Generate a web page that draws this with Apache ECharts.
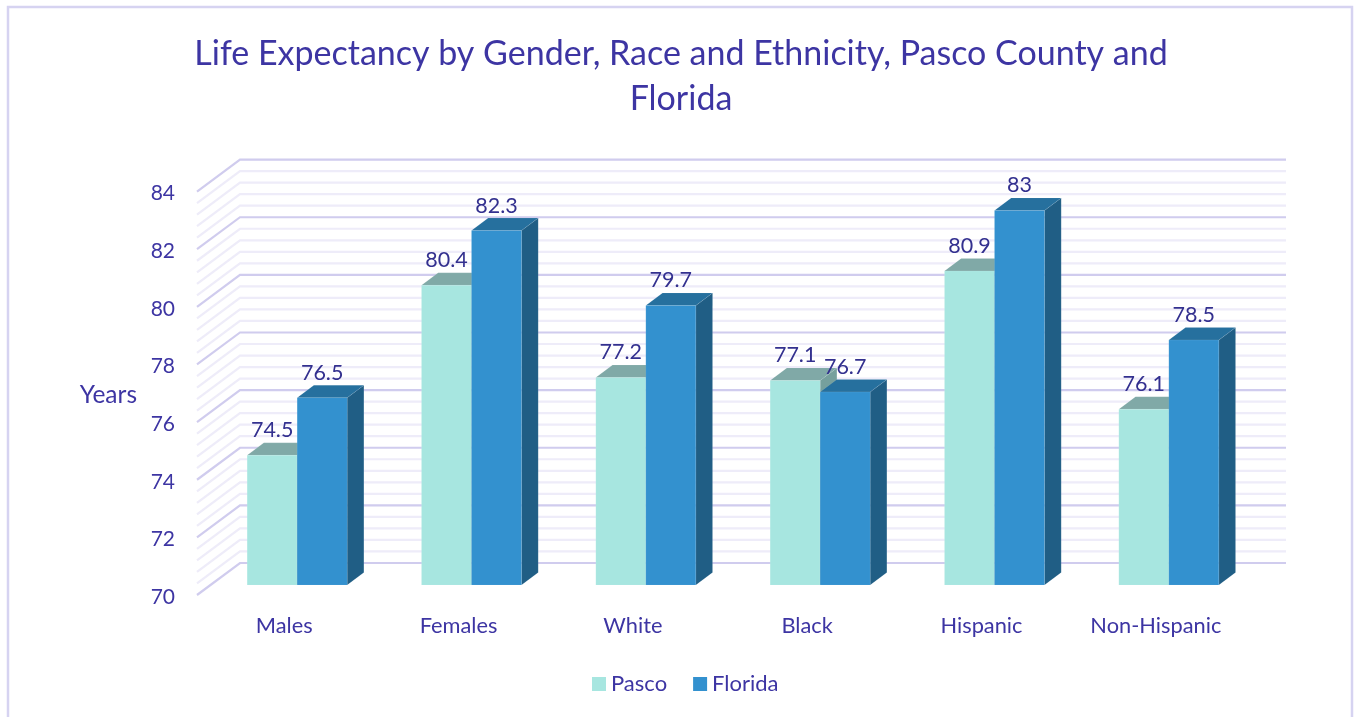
<!DOCTYPE html>
<html>
<head>
<meta charset="utf-8">
<style>html,body{margin:0;padding:0;background:#fff;overflow:hidden}#c{width:1354px;height:717px}</style>
<script src="https://cdn.jsdelivr.net/npm/echarts@6/dist/echarts.min.js"></script>
</head>
<body>
<div id="c"></div>
<script>
const categories = ['Males','Females','White','Black','Hispanic','Non-Hispanic'];
const pasco = [74.5,80.4,77.2,77.1,80.9,76.1];
const florida = [76.5,82.3,79.7,76.7,83,78.5];
const gridValues = [70,70.4,70.8,71.2,71.6,72,72.4,72.8,73.2,73.6,74,74.4,74.8,75.2,75.6,76,76.4,76.8,77.2,77.6,78,78.4,78.8,79.2,79.6,80,80.4,80.8,81.2,81.6,82,82.4,82.8,83.2,83.6,84];
const majorEvery = 5;

const FONT = 'Lato, "Open Sans", sans-serif';
const TEXT = '#3d35a3';
const LABEL = '#33308f';
const WALL = [43, -32];      // back wall offset from the front axis plane
const PLANE = [13, -10];     // bar front face offset from the front axis plane
const DEPTH = [16.7, -12.5]; // bar depth
const BAR_RATIO = 0.2868;    // bar width as a share of a category band

function gridItem(params, api) {
  const v = api.value(0);
  const sys = params.coordSys;
  const y = api.coord([0, v])[1];
  const major = params.dataIndex % majorEvery === 0;
  return {
    type: 'polyline',
    shape: { points: [[sys.x, y], [sys.x + WALL[0], y + WALL[1]], [sys.x + sys.width + WALL[0], y + WALL[1]]] },
    style: { fill: null, stroke: major ? '#d0ccee' : '#eeecf9', lineWidth: 2.2 },
    silent: true
  };
}

function barItem(side, front, top, wall) {
  return function (params, api) {
    const cat = api.value(0), val = api.value(1);
    const p = api.coord([cat, val]);
    const base = api.coord([cat, 70]);
    const w = api.size([1, 0])[0] * BAR_RATIO;
    const x0 = p[0] + PLANE[0] + (side < 0 ? -w : 0);
    const x1 = x0 + w;
    const yt = p[1] + PLANE[1];
    const yb = base[1] + PLANE[1];
    const dx = DEPTH[0], dy = DEPTH[1];
    const edge = 'rgba(255,255,255,0.15)';
    return {
      type: 'group',
      children: [
        { type: 'polygon', shape: { points: [[x1, yb], [x1 + dx, yb + dy], [x1 + dx, yt + dy], [x1, yt]] }, style: { fill: wall, stroke: edge, lineWidth: 0.5 } },
        { type: 'polygon', shape: { points: [[x0, yt], [x1, yt], [x1 + dx, yt + dy], [x0 + dx, yt + dy]] }, style: { fill: top, stroke: edge, lineWidth: 0.5 } },
        { type: 'rect', shape: { x: x0, y: yt, width: w, height: yb - yt }, style: { fill: front, stroke: edge, lineWidth: 0.5 } },
        { type: 'text', z2: 50, style: { x: (x0 + x1) / 2, y: yt - 25, text: String(val), fill: LABEL, font: '21.5px ' + FONT, align: 'center', verticalAlign: 'middle' } }
      ]
    };
  };
}

const chart = echarts.init(document.getElementById('c'), null, { renderer: 'canvas' });
chart.setOption({
  animation: false,
  backgroundColor: '#ffffff',
  title: {
    text: 'Life Expectancy by Gender, Race and Ethnicity, Pasco County and\nFlorida',
    left: 676, top: 26.5, textAlign: 'center',
    textStyle: { color: TEXT, fontFamily: FONT, fontWeight: 'normal', fontSize: 34, lineHeight: 45 }
  },
  legend: {
    left: 587, top: 668, itemWidth: 14, itemHeight: 14, itemGap: 26,
    icon: 'rect',
    textStyle: { color: TEXT, fontFamily: FONT, fontSize: 22 },
    data: ['Pasco', 'Florida']
  },
  grid: { left: 197, top: 191.6, width: 1046, height: 403.4, containLabel: false },
  xAxis: {
    type: 'category', data: categories,
    axisLine: { show: false }, axisTick: { show: false }, splitLine: { show: false },
    axisLabel: { color: TEXT, fontFamily: FONT, fontSize: 21.8, margin: 20, interval: 0 }
  },
  yAxis: {
    type: 'value', min: 70, max: 84, interval: 2,
    name: '{n|Years}', nameLocation: 'middle', nameRotate: 0, nameGap: 60,
    nameTextStyle: { color: TEXT, fontFamily: FONT, fontSize: 24.5, rich: { n: { color: TEXT, fontFamily: FONT, fontSize: 24.5, padding: [4, 0, 0, 0] } } },
    axisLine: { show: false }, axisTick: { show: false }, splitLine: { show: false },
    axisLabel: {
      color: TEXT, fontFamily: FONT, fontSize: 21, margin: 22,
      formatter: '{t|{value}}',
      rich: { t: { color: TEXT, fontFamily: FONT, fontSize: 21, padding: [4, 0, 0, 0] } }
    }
  },
  series: [
    { name: 'walls', type: 'custom', z: 1, silent: true, data: gridValues.map(v => [v]), encode: { y: 0 }, renderItem: gridItem, clip: false, tooltip: { show: false } },
    { name: 'Pasco', type: 'custom', z: 2, itemStyle: { color: '#a7e6e0' }, data: pasco.map((v, i) => [i, v]), encode: { x: 0, y: 1 }, renderItem: barItem(-1, '#a7e6e0', '#80a9a7', '#76a09d'), clip: false },
    { name: 'Florida', type: 'custom', z: 3, itemStyle: { color: '#3391cf' }, data: florida.map((v, i) => [i, v]), encode: { x: 0, y: 1 }, renderItem: barItem(1, '#3391cf', '#26709e', '#205e85'), clip: false }
  ],
  graphic: [
    { type: 'rect', z: 0, silent: true, shape: { x: 8, y: 7, width: 1344, height: 730 }, style: { fill: null, stroke: '#d6d3f1', lineWidth: 2.5 } }
  ]
});
</script>
</body>
</html>
